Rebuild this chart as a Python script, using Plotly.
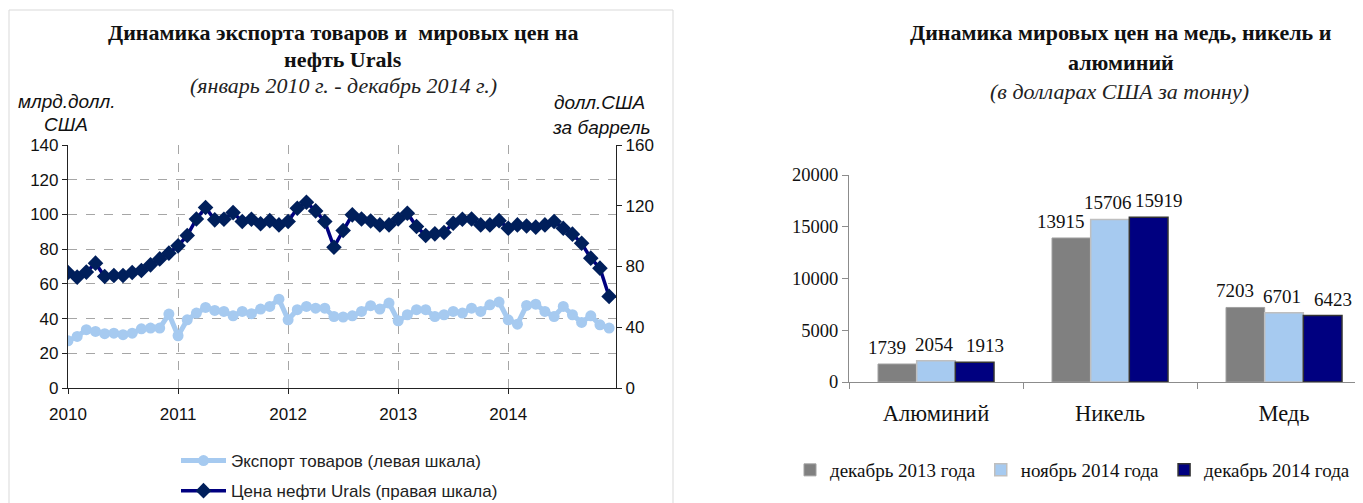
import plotly.graph_objects as go

W, H = 1363, 503

# ---------------- data: left chart ----------------
months = list(range(60))  # Jan 2010 .. Dec 2014
year_ticks = [0, 12, 24, 36, 48]
year_labels = ["2010", "2011", "2012", "2013", "2014"]

export_goods = [
    27.2, 29.7, 33.6, 32.6, 31.3, 31.6, 30.7, 31.6, 34.1, 34.5, 34.5, 42.6,
    30.1, 39.3, 43.2, 46.4, 44.7, 44.1, 41.6, 44.1, 42.8, 45.5, 47.0, 51.2,
    39.3, 45.1, 47.0, 46.0, 46.0, 41.2, 40.9, 41.6, 44.1, 47.4, 45.5, 48.9,
    38.7, 42.2, 45.1, 45.1, 41.2, 42.2, 44.1, 43.2, 46.0, 44.1, 47.9, 49.5,
    39.3, 36.8, 47.6, 48.3, 44.1, 41.2, 47.0, 42.2, 37.8, 41.6, 36.4, 34.5,
]
urals_price = [
    76.0, 73.0, 76.3, 82.2, 73.4, 74.1, 74.1, 76.0, 77.4, 81.1, 85.0, 88.8,
    93.6, 100.4, 111.3, 118.8, 110.7, 111.1, 115.5, 109.6, 111.1, 108.1, 110.2, 107.4,
    109.6, 118.4, 122.3, 116.6, 109.6, 92.7, 103.7, 114.0, 111.3, 110.0, 107.4, 107.4,
    111.3, 115.1, 106.3, 100.4, 101.5, 102.4, 108.5, 111.1, 111.3, 107.4, 107.4, 110.2,
    105.2, 107.4, 106.7, 105.9, 107.4, 109.6, 105.2, 101.3, 95.3, 85.5, 78.9, 60.3,
]

# ---------------- data: right chart ----------------
metals = ["Алюминий", "Никель", "Медь"]
dec_2013 = [1739, 13915, 7203]
nov_2014 = [2054, 15706, 6701]
dec_2014 = [1913, 15919, 6423]
series_names = ["декабрь 2013 года", "ноябрь 2014 года", "декабрь 2014 года"]

SANS = "Liberation Sans, Arial, sans-serif"
SERIF = "Liberation Serif, Times New Roman, serif"

# the page body adds an 8px offset; positions below are screen pixels
OFF = 8

def px_x(p):
    return (p - OFF) / W

def px_y(p):
    return (H - (p - OFF)) / H

fig = go.Figure()

# ---- left chart traces ----
fig.add_trace(go.Scatter(
    x=months, y=export_goods, name="Экспорт товаров (левая шкала)",
    mode="lines+markers", legendgroup="a", legend="legend",
    line=dict(color="#A6CAF0", width=5),
    marker=dict(symbol="circle", size=11, color="#A6CAF0"),
    xaxis="x", yaxis="y",
))
fig.add_trace(go.Scatter(
    x=months, y=urals_price, name="Цена нефти Urals (правая шкала)",
    mode="lines+markers", legendgroup="b", legend="legend",
    line=dict(color="#000080", width=3.5),
    marker=dict(symbol="diamond", size=12, color="#001F5B"),
    xaxis="x", yaxis="y2",
))

# ---- right chart traces ----
bar_styles = [
    dict(color="#808080", line=dict(color="#A0A0A0", width=1)),
    dict(color="#A6CAF0", line=dict(color="#BFBFBF", width=1.5)),
    dict(color="#000080", line=dict(color="#333333", width=1.5)),
]
all_series = [dec_2013, nov_2014, dec_2014]
for name, vals, st in zip(series_names, all_series, bar_styles):
    fig.add_trace(go.Bar(
        x=metals, y=vals, name=name, marker=st,
        legend="legend2", xaxis="x3", yaxis="y3",
    ))

grid = dict(showgrid=True, gridcolor="#A6A6A6", griddash="dash", gridwidth=1)

CAT_PX = 174.0                # pixel width of one category on the bar axis
BAR_PX = CAT_PX * (2 / 3) / 3  # pixel width of one bar
LABEL_NUDGE = [-10, -2, 10]    # small horizontal label nudges per series (px)

fig.update_layout(
    width=W, height=H,
    margin=dict(l=0, r=0, t=0, b=0, pad=0, autoexpand=False),
    paper_bgcolor="white", plot_bgcolor="white",
    barmode="group", bargap=1 / 3, bargroupgap=0,
    font=dict(family=SANS, color="#111111"),
    xaxis=dict(
        domain=[px_x(68), px_x(616)], range=[0, 59.75],
        tickvals=year_ticks, ticktext=year_labels,
        tickfont=dict(family=SANS, size=17, color="#111111"),
        showline=True, linecolor="#222222", linewidth=1.2,
        ticks="outside", ticklen=5, tickcolor="#222222",
        ticklabelstandoff=5, zeroline=False, anchor="y", automargin=False,
        **grid,
    ),
    yaxis=dict(
        domain=[px_y(388), px_y(145)], range=[0, 140], dtick=20,
        tickfont=dict(family=SANS, size=17, color="#111111"),
        showline=True, linecolor="#222222", linewidth=1.2,
        ticks="outside", ticklen=5, tickcolor="#222222",
        zeroline=False, anchor="x", automargin=False,
        **grid,
    ),
    yaxis2=dict(
        overlaying="y", side="right", anchor="x",
        range=[0, 160], dtick=40,
        tickfont=dict(family=SANS, size=17, color="#111111"),
        showline=True, linecolor="#222222", linewidth=1.2,
        ticks="outside", ticklen=5, tickcolor="#222222",
        showgrid=False, zeroline=False, automargin=False,
    ),
    xaxis3=dict(
        domain=[px_x(849), 1.0], range=[-0.5, -0.5 + (W + OFF - 849) / CAT_PX],
        type="category", anchor="y3",
        tickfont=dict(family=SERIF, size=22.5, color="#111111"),
        showline=True, linecolor="#8C8C8C", linewidth=1.2,
        ticks="outside", tickson="boundaries", ticklen=6, tickcolor="#8C8C8C",
        ticklabelstandoff=11, showgrid=False, zeroline=False, automargin=False,
    ),
    yaxis3=dict(
        domain=[px_y(382), px_y(175)], range=[0, 20000], dtick=5000,
        tickformat="d", anchor="x3",
        tickfont=dict(family=SERIF, size=18.5, color="#111111"),
        showline=True, linecolor="#8C8C8C", linewidth=1.2,
        ticks="outside", ticklen=6, tickcolor="#8C8C8C",
        showgrid=False, zeroline=False, automargin=False,
    ),
    legend=dict(
        x=px_x(176), y=px_y(443), xanchor="left", yanchor="top",
        orientation="v", tracegroupgap=5,
        font=dict(family=SANS, size=17, color="#222222"),
        bgcolor="rgba(0,0,0,0)", itemwidth=45,
    ),
    legend2=dict(
        x=px_x(790), y=px_y(451), xanchor="left", yanchor="top",
        orientation="h",
        font=dict(family=SERIF, size=19, color="#111111"),
        bgcolor="rgba(0,0,0,0)", itemwidth=30,
    ),
    showlegend=True,
)

# panel border of the left chart
fig.add_shape(type="rect", xref="paper", yref="paper",
              x0=px_x(9), x1=px_x(673), y0=px_y(530), y1=px_y(10),
              line=dict(color="#D9D9D9", width=1), layer="below")

ann = []
# left title
ann.append(dict(text="<b>Динамика экспорта товаров и  мировых цен на</b>",
                x=px_x(343), y=px_y(33), font=dict(family=SERIF, size=22, color="#111111")))
ann.append(dict(text="<b>нефть Urals</b>",
                x=px_x(343), y=px_y(60), font=dict(family=SERIF, size=22, color="#111111")))
ann.append(dict(text="<i>(январь 2010 г. - декабрь 2014 г.)</i>",
                x=px_x(343), y=px_y(86), font=dict(family=SERIF, size=22, color="#222222")))
# axis titles
ann.append(dict(text="<i>млрд.долл.</i>", x=px_x(66), y=px_y(101),
                font=dict(family=SANS, size=19, color="#111111")))
ann.append(dict(text="<i>США</i>", x=px_x(66), y=px_y(125),
                font=dict(family=SANS, size=19, color="#111111")))
ann.append(dict(text="<i>долл.США</i>", x=px_x(599), y=px_y(102),
                font=dict(family=SANS, size=19, color="#111111")))
ann.append(dict(text="<i>за баррель</i>", x=px_x(601), y=px_y(127),
                font=dict(family=SANS, size=19, color="#111111")))
# right title
ann.append(dict(text="<b>Динамика мировых цен на медь, никель и</b>",
                x=px_x(1121), y=px_y(33), font=dict(family=SERIF, size=22, color="#111111")))
ann.append(dict(text="<b>алюминий</b>",
                x=px_x(1121), y=px_y(62), font=dict(family=SERIF, size=22, color="#111111")))
ann.append(dict(text="<i>(в долларах США за тонну)</i>",
                x=px_x(1119), y=px_y(91), font=dict(family=SERIF, size=22, color="#222222")))

for a in ann:
    a.update(xref="paper", yref="paper", showarrow=False, xanchor="center", yanchor="middle")

# bar value labels, placed through the bar chart's own axes
for i, vals in enumerate(all_series):
    for j, v in enumerate(vals):
        ann.append(dict(
            text=str(v), x=j, y=v, xref="x3", yref="y3",
            xshift=(i - 1) * BAR_PX + LABEL_NUDGE[i], yshift=4,
            xanchor="center", yanchor="bottom", showarrow=False,
            font=dict(family=SERIF, size=19, color="#111111"),
        ))

fig.update_layout(annotations=ann)

fig.write_html("out.html")
